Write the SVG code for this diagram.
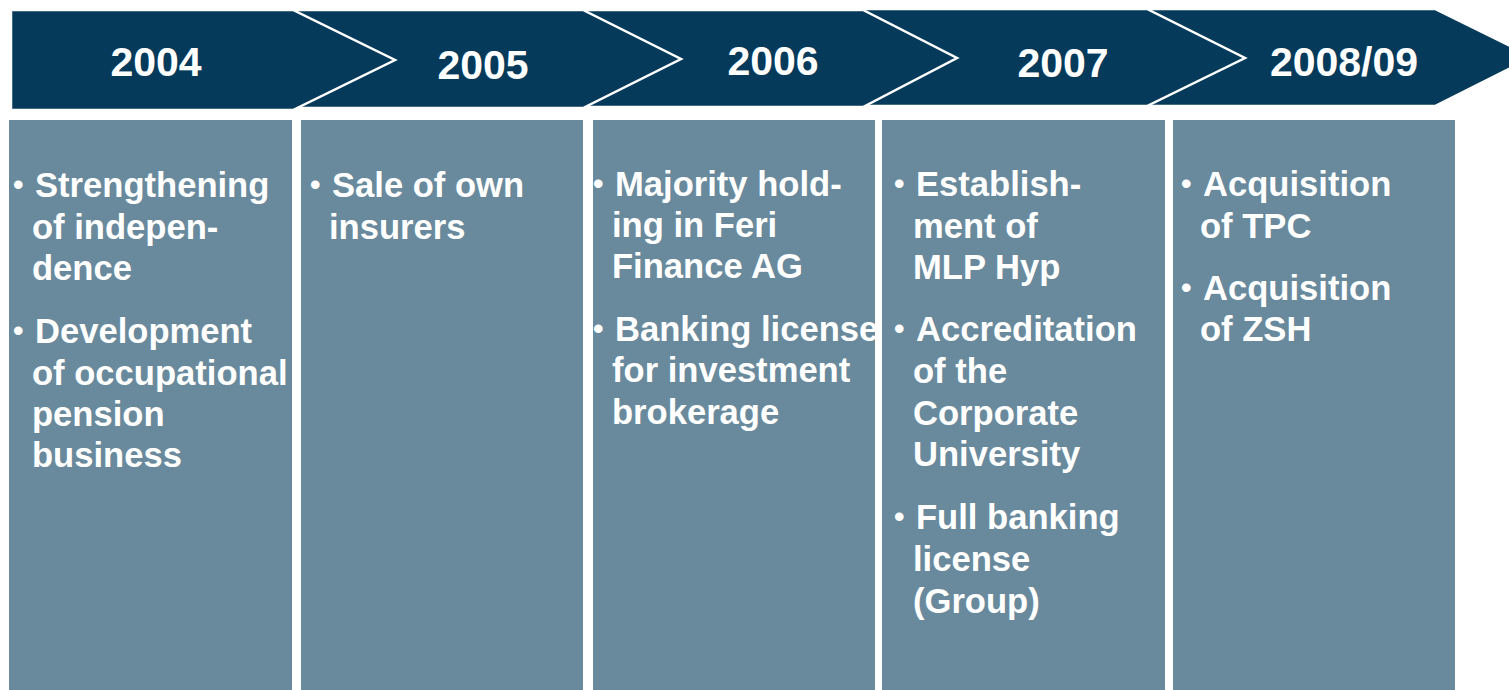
<svg xmlns="http://www.w3.org/2000/svg" width="1509" height="690" viewBox="0 0 1509 690">
<style>
.chev{fill:#053A5B;stroke:#ffffff;stroke-width:2.5;stroke-linejoin:miter}
.box{fill:#698A9D}
.yr{font-family:"Liberation Sans",Arial,sans-serif;font-weight:bold;font-size:41px;fill:#ffffff;text-anchor:middle}
.tx{font-family:"Liberation Sans",Arial,sans-serif;font-weight:bold;font-size:34.6px;fill:#ffffff}
.bl{font-family:"Liberation Sans",Arial,sans-serif;font-weight:bold;font-size:30px;fill:#ffffff}
</style>
<rect width="1509" height="690" fill="#ffffff"/>
<g id="chevrons">
<g id="chev5"><path class="chev" d="M1100,9 L1435,9 L1533,57 L1435,106 L1100,106 Z"/><text class="yr" x="1344" y="76">2008/09</text></g>
<g id="chev4"><path class="chev" d="M820,9 L1147,9 L1245,58 L1147,106 L820,106 Z"/><text class="yr" x="1063" y="77">2007</text></g>
<g id="chev3"><path class="chev" d="M540,10 L863,10 L957,58 L863,107 L540,107 Z"/><text class="yr" x="773" y="75">2006</text></g>
<g id="chev2"><path class="chev" d="M250,10 L583,10 L681,59 L583,108 L250,108 Z"/><text class="yr" x="483" y="79">2005</text></g>
<g id="chev1"><path class="chev" d="M11,10 L293,10 L395,60 L293,110 L11,110 Z"/><text class="yr" x="156" y="76">2004</text></g>
</g>
<g id="connectors"></g>
<g id="col2004">
<rect class="box" x="9" y="120" width="283" height="570"/>
<text class="bl" x="13" y="195">•</text>
<text class="tx" x="35" y="197">Strengthening</text>
<text class="tx" x="32" y="239">of indepen-</text>
<text class="tx" x="32" y="280">dence</text>
<text class="bl" x="13" y="341">•</text>
<text class="tx" x="35" y="343">Development</text>
<text class="tx" x="32" y="385">of occupational</text>
<text class="tx" x="32" y="426">pension</text>
<text class="tx" x="32" y="467">business</text>
</g>
<g id="col2005">
<rect class="box" x="301" y="120" width="282" height="570"/>
<text class="bl" x="310" y="195">•</text>
<text class="tx" x="332" y="197">Sale of own</text>
<text class="tx" x="329" y="239">insurers</text>
</g>
<g id="col2006">
<rect class="box" x="593" y="120" width="282" height="570"/>
<text class="bl" x="593" y="194">•</text>
<text class="tx" x="615" y="196">Majority hold-</text>
<text class="tx" x="612" y="237">ing in Feri</text>
<text class="tx" x="612" y="278">Finance AG</text>
<text class="bl" x="593" y="339">•</text>
<text class="tx" x="615" y="341">Banking license</text>
<text class="tx" x="612" y="382">for investment</text>
<text class="tx" x="612" y="424">brokerage</text>
</g>
<g id="col2007">
<rect class="box" x="882" y="120" width="283" height="570"/>
<text class="bl" x="894" y="194">•</text>
<text class="tx" x="916" y="196">Establish-</text>
<text class="tx" x="913" y="238">ment of</text>
<text class="tx" x="913" y="279">MLP Hyp</text>
<text class="bl" x="894" y="339">•</text>
<text class="tx" x="916" y="341">Accreditation</text>
<text class="tx" x="913" y="383">of the</text>
<text class="tx" x="913" y="425">Corporate</text>
<text class="tx" x="913" y="466">University</text>
<text class="bl" x="894" y="527">•</text>
<text class="tx" x="916" y="529">Full banking</text>
<text class="tx" x="913" y="571">license</text>
<text class="tx" x="913" y="613">(Group)</text>
</g>
<g id="col2008">
<rect class="box" x="1173" y="120" width="282" height="570"/>
<text class="bl" x="1181" y="194">•</text>
<text class="tx" x="1203" y="196">Acquisition</text>
<text class="tx" x="1200" y="238">of TPC</text>
<text class="bl" x="1181" y="298">•</text>
<text class="tx" x="1203" y="300">Acquisition</text>
<text class="tx" x="1200" y="341">of ZSH</text>
</g>
</svg>
